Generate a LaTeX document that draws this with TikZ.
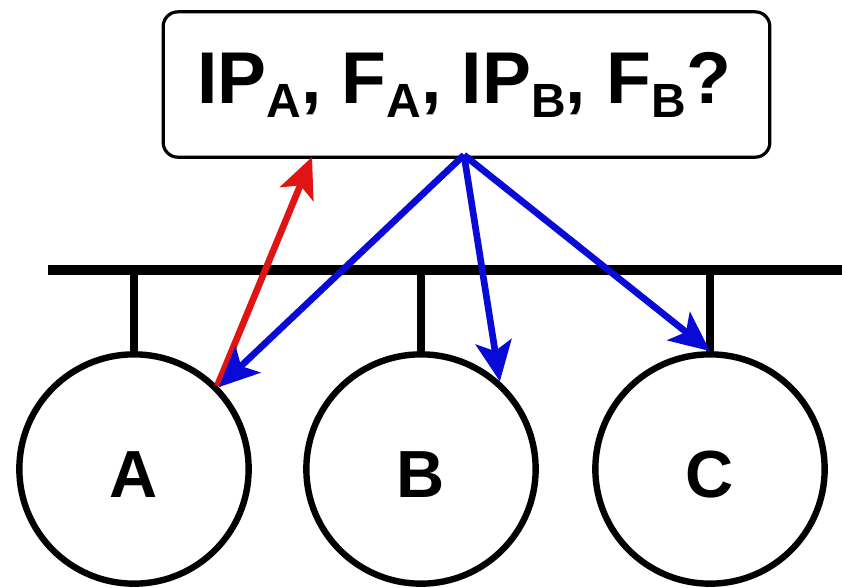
\documentclass[tikz,border=0pt]{standalone}
\usepackage{fontspec}
\setmainfont{Liberation Sans}
\usetikzlibrary{arrows.meta}
\definecolor{ared}{RGB}{225,20,20}
\definecolor{ablue}{RGB}{10,10,215}
\newcommand{\sbx}[1]{\raisebox{-11pt}{\fontsize{36}{36}\selectfont #1}}
\begin{document}
\begin{tikzpicture}[x=0.75pt,y=-0.75pt,
  host/.style={draw,circle,line width=4.8pt,minimum size=172pt,inner sep=0pt},
  lbl/.style={font=\fontsize{50}{50}\selectfont\bfseries,inner sep=0pt,anchor=base},
  stub/.style={line width=5.5pt},
  bus/.style={line width=7pt},
  arr/.style={line width=5pt,-{Stealth[length=30pt,width=27pt,inset=7pt]}},
  qbox/.style={draw,line width=2.4pt,rounded corners=11pt,minimum width=455pt,minimum height=109pt,inner sep=0pt}]
\useasboundingbox[fill=white] (0,0) rectangle (842,587);
\node[qbox] (q) at (466.5,84.5) {};
\node[anchor=base,inner sep=0pt,font=\fontsize{55}{55}\selectfont\bfseries] (qt) at (464,103) {IP\sbx{A}, F\sbx{A}, IP\sbx{B}, F\sbx{B}?};
\node[host] (A) at (134,469) {};
\node[host] (B) at (421,469) {};
\node[host] (C) at (710,469) {};
\node[lbl] (la) at (134,497) {A};
\node[lbl] (lb) at (421,497) {B};
\node[lbl] (lc) at (710,497) {C};
\coordinate (busL) at (48,270);
\coordinate (busR) at (842,270);
\draw[bus] (busL) -- (busR);
\draw[stub] (A.north) -- (A.north |- busL);
\draw[stub] (B.north) -- (B.north |- busL);
\draw[stub] (C.north) -- (C.north |- busL);
\coordinate (r) at (312,157);
\coordinate (s) at (464,155);
\draw[arr,ared] (A.45) -- (r);
\draw[arr,ablue] (s) -- (A.44);
\draw[arr,ablue] (s) -- (B.48);
\draw[arr,ablue] (s) -- (C.north);
\end{tikzpicture}
\end{document}
